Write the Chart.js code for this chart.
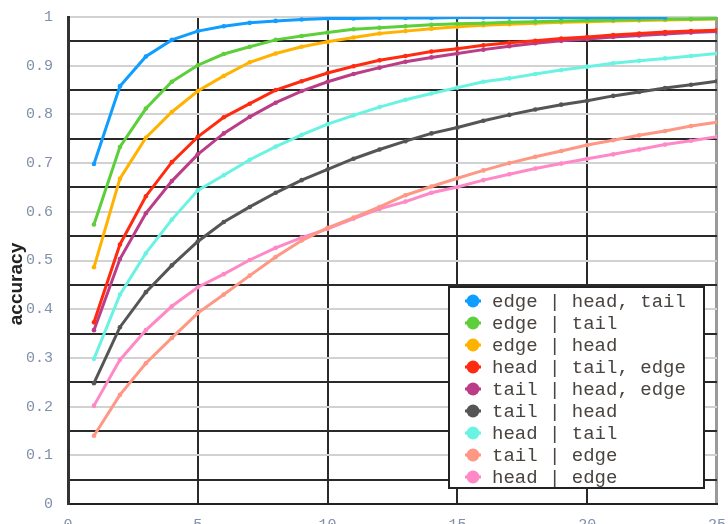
<!DOCTYPE html>
<html>
<head>
<meta charset="utf-8">
<script src="https://cdn.jsdelivr.net/npm/chart.js@4.4.1/dist/chart.umd.min.js"></script>
<style>
html,body{margin:0;padding:0;background:#fff;overflow:hidden;}
#wrap{position:relative;width:738px;height:553px;margin-top:-7px;}
</style>
</head>
<body>
<div id="wrap"><canvas id="c" width="738" height="553"></canvas></div>
<script>
const xValues = [1,2,3,4,5,6,7,8,9,10,11,12,13,14,15,16,17,18,19,20,21,22,23,24,25];
const yTickLabels = ['0','0.1','0.2','0.3','0.4','0.5','0.6','0.7','0.8','0.9','1'];
const xTickLabels = ['0','5','10','15','20','25'];
const seriesLabels = ['edge | head, tail','edge | tail','edge | head','head | tail, edge','tail | head, edge','tail | head','head | tail','tail | edge','head | edge'];
const seriesColors = ['#0f9dff','#5ccf3a','#ffb300','#ff2b10','#bb3d87','#555555','#6af3e2','#ff9785','#ff88c6'];

const edgeHeadTail = [0.698,0.858,0.919,0.953,0.971,0.981,0.988,0.992,0.995,0.997,0.997,0.998,0.998,0.998,0.999,0.999,0.999,0.999,0.999,0.999,0.999,0.999,0.999];
const edgeTail = [0.574,0.733,0.812,0.867,0.901,0.924,0.939,0.953,0.961,0.968,0.975,0.978,0.981,0.984,0.986,0.987,0.989,0.990,0.992,0.993,0.994,0.995,0.996,0.996,0.997];
const edgeHead = [0.486,0.668,0.752,0.805,0.848,0.879,0.907,0.925,0.939,0.949,0.958,0.966,0.971,0.976,0.980,0.983,0.985,0.987,0.989,0.990,0.992,0.993,0.994,0.995,0.996];
const headTailEdge = [0.373,0.533,0.632,0.702,0.754,0.794,0.822,0.850,0.868,0.885,0.899,0.911,0.920,0.929,0.935,0.942,0.947,0.951,0.956,0.959,0.963,0.966,0.969,0.971,0.973];
const tailHeadEdge = [0.357,0.503,0.597,0.663,0.718,0.761,0.795,0.824,0.848,0.867,0.883,0.896,0.908,0.917,0.925,0.933,0.940,0.946,0.951,0.955,0.959,0.962,0.965,0.968,0.970];
const tailHead = [0.248,0.363,0.435,0.490,0.539,0.579,0.610,0.639,0.665,0.687,0.709,0.728,0.745,0.761,0.773,0.787,0.799,0.810,0.820,0.828,0.838,0.846,0.854,0.861,0.868];
const headTail = [0.298,0.430,0.515,0.584,0.644,0.675,0.707,0.734,0.758,0.780,0.798,0.815,0.830,0.843,0.855,0.867,0.874,0.883,0.891,0.898,0.905,0.910,0.915,0.920,0.925];
const tailEdge = [0.140,0.224,0.289,0.341,0.392,0.430,0.469,0.507,0.541,0.567,0.588,0.610,0.634,0.652,0.669,0.685,0.700,0.713,0.725,0.737,0.747,0.757,0.766,0.776,0.784];
const headEdge = [0.202,0.296,0.357,0.406,0.445,0.472,0.501,0.526,0.547,0.565,0.586,0.606,0.621,0.639,0.651,0.665,0.677,0.689,0.699,0.709,0.718,0.728,0.738,0.746,0.754];

const allSeries = [edgeHeadTail,edgeTail,edgeHead,headTailEdge,tailHeadEdge,tailHead,headTail,tailEdge,headEdge];

const datasets = allSeries.map((vals,i)=>({
  label: seriesLabels[i],
  data: vals.map((v,j)=>({x:xValues[j], y:v})),
  borderColor: seriesColors[i],
  backgroundColor: seriesColors[i],
  pointBackgroundColor: seriesColors[i],
  borderWidth: 3,
  pointRadius: 2.3,
  pointBorderWidth: 0,
  tension: 0,
  fill: false
}));

const tickFont = {family:'Liberation Mono', size:15};
const tickColor = '#8090aa';
const OFFSET = 7; // canvas is shifted up by this many pixels

const customLegend = {
  id:'customLegend',
  afterDraw(chart){
    const ctx = chart.ctx;
    const L=449, T=287+OFFSET, R=704, B=488+OFFSET;
    ctx.save();
    ctx.fillStyle='#fff';
    ctx.fillRect(L,T,R-L,B-T);
    ctx.strokeStyle='#222';
    ctx.lineWidth=2;
    ctx.strokeRect(L,T,R-L,B-T);
    ctx.font='19px "Liberation Mono"';
    ctx.textBaseline='middle';
    chart.data.datasets.forEach((ds,i)=>{
      const y = 301 + OFFSET + i*22;
      ctx.strokeStyle=ds.borderColor;
      ctx.lineWidth=3;
      ctx.beginPath(); ctx.moveTo(465,y); ctx.lineTo(481,y); ctx.stroke();
      ctx.fillStyle=ds.borderColor;
      ctx.beginPath(); ctx.arc(473,y,6.5,0,Math.PI*2); ctx.fill();
      ctx.fillStyle='#4a4440';
      ctx.fillText(ds.label,492,y+1);
    });
    ctx.restore();
  }
};

const yTitle = {
  id:'yTitle',
  afterDraw(chart){
    const ctx = chart.ctx;
    ctx.save();
    ctx.translate(17,284+OFFSET);
    ctx.rotate(-Math.PI/2);
    ctx.font='bold 19px "Liberation Sans"';
    ctx.fillStyle='#222';
    ctx.textAlign='center';
    ctx.textBaseline='middle';
    ctx.fillText('accuracy',0,0);
    ctx.restore();
  }
};

new Chart(document.getElementById('c'),{
  type:'line',
  data:{datasets},
  options:{
    responsive:false,
    animation:false,
    layout:{padding:{left:11,right:0,top:1,bottom:0}},
    plugins:{legend:{display:false},tooltip:{enabled:false}},
    scales:{
      x:{
        type:'linear', min:0, max:25,
        ticks:{stepSize:5, font:tickFont, color:tickColor, padding:12,
          callback:(v)=>{const k=Math.round(v/5); return (Math.abs(v-k*5)<1e-6 && xTickLabels[k]!==undefined)?xTickLabels[k]:'';}},
        grid:{drawTicks:false,
          color:(c)=>{const v=c.tick?c.tick.value:0; return v>=25?'#9a9a9a':'#2a2a2a';},
          lineWidth:(c)=>{const v=c.tick?c.tick.value:0; return v>=25?3:2;}},
        border:{color:'#222', width:2}
      },
      y:{
        min:0, max:1,
        ticks:{stepSize:0.05, font:tickFont, color:tickColor, padding:15, autoSkip:false,
          callback:(v)=>{const k=Math.round(v*20); return k%2===0?yTickLabels[k/2]:'';}},
        grid:{drawTicks:false,
          color:(c)=>{const v=c.tick?c.tick.value:0; const k=Math.round(v*20); return k%2===0?'#d2d2d2':'#2a2a2a';},
          lineWidth:2},
        border:{color:'#333', width:3}
      }
    }
  },
  plugins:[customLegend,yTitle]
});
</script>
</body>
</html>
